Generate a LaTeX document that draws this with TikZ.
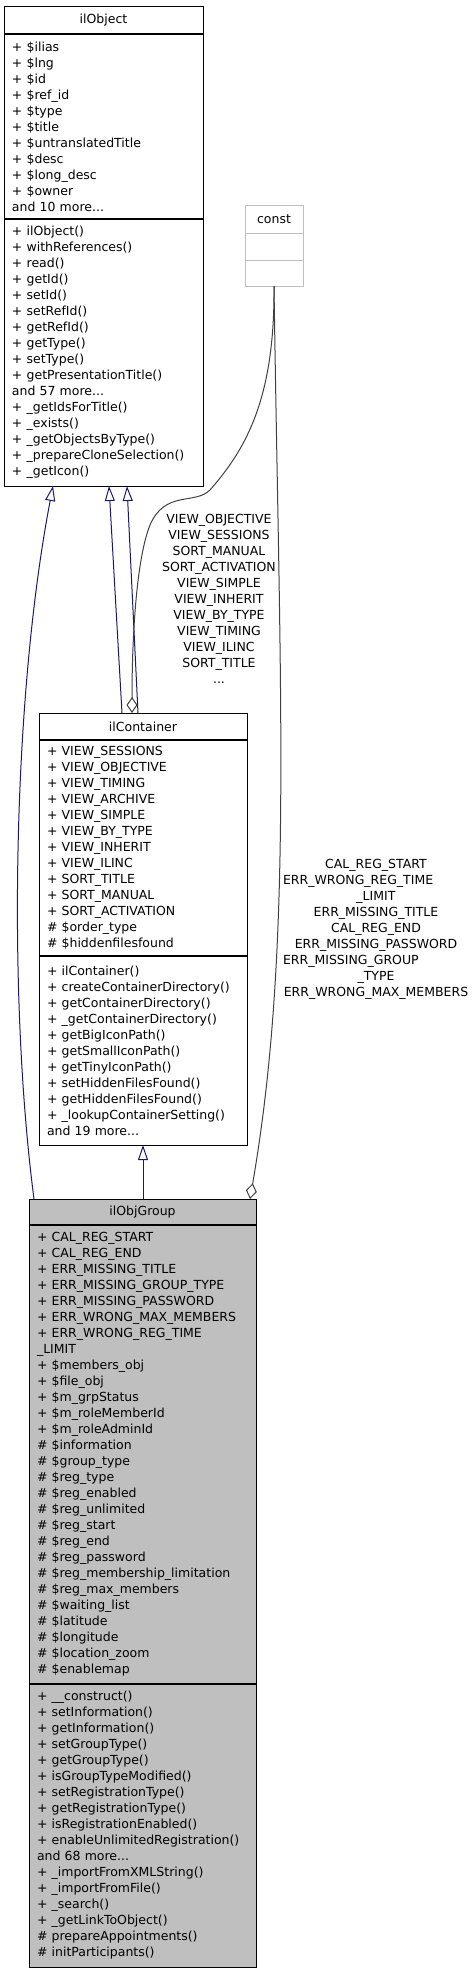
\documentclass[tikz,border=0pt]{standalone}
\usepackage{fontspec}
\setmainfont{DejaVu Sans}
\usetikzlibrary{arrows.meta,positioning}
\definecolor{edgeblue}{HTML}{191970}
\definecolor{edgegray}{HTML}{404040}
\definecolor{constgray}{HTML}{BFBFBF}
\definecolor{groupfill}{HTML}{BFBFBF}

\begin{document}
\begin{tikzpicture}[x=1pt,y=-1pt,
    classbox/.style={draw=black,line width=1pt,outer sep=0pt,inner xsep=8pt,inner ysep=0pt,
      align=left,font=\fontsize{12.5}{16}\selectfont},
    titlebox/.style={classbox,align=center},
    sepline/.style={line width=1.8pt},
    inherit/.style={draw=edgeblue,line width=1pt,-{Triangle[open,length=15pt,width=10pt]}},
    aggr/.style={draw=edgegray,line width=1pt,-{Diamond[open,length=16pt,width=11pt]}},
    elabel/.style={font=\fontsize{12.5}{16}\selectfont,align=center,inner sep=0pt}]
  \useasboundingbox (0,0) rectangle (475,1973);

  % ilObject
  \node[titlebox,text width=183pt,minimum height=28pt,anchor=north west] (oTitle) at (4,6) {ilObject};
  \node[classbox,text width=183pt,minimum height=185pt,below=0pt of oTitle] (oAttr)
    {+ \$ilias\\+ \$lng\\+ \$id\\+ \$ref\_id\\+ \$type\\+ \$title\\+ \$untranslatedTitle\\+ \$desc\\+ \$long\_desc\\+ \$owner\\and 10 more...};
  \node[classbox,text width=183pt,minimum height=267pt,below=0pt of oAttr] (oMeth)
    {+ ilObject()\\+ withReferences()\\+ read()\\+ getId()\\+ setId()\\+ setRefId()\\+ getRefId()\\+ getType()\\+ setType()\\+ getPresentationTitle()\\and 57 more...\\+ \_getIdsForTitle()\\+ \_exists()\\+ \_getObjectsByType()\\+ \_prepareCloneSelection()\\+ \_getIcon()};
  \draw[sepline] (oAttr.north west) -- (oAttr.north east);
  \draw[sepline] (oMeth.north west) -- (oMeth.north east);

  % const
  \node[titlebox,draw=constgray,text width=42pt,minimum height=28pt,anchor=north west] (kTitle) at (245,205) {const};
  \node[classbox,draw=constgray,text width=42pt,minimum height=27pt,below=0pt of kTitle] (kAttr) {};
  \node[classbox,draw=constgray,text width=42pt,minimum height=26pt,below=0pt of kAttr] (kMeth) {};

  % ilContainer
  \node[titlebox,text width=192pt,minimum height=27pt,anchor=north west] (cTitle) at (39,713) {ilContainer};
  \node[classbox,text width=192pt,minimum height=216pt,below=0pt of cTitle] (cAttr)
    {+ VIEW\_SESSIONS\\+ VIEW\_OBJECTIVE\\+ VIEW\_TIMING\\+ VIEW\_ARCHIVE\\+ VIEW\_SIMPLE\\+ VIEW\_BY\_TYPE\\+ VIEW\_INHERIT\\+ VIEW\_ILINC\\+ SORT\_TITLE\\+ SORT\_MANUAL\\+ SORT\_ACTIVATION\\\# \$order\_type\\\# \$hiddenfilesfound};
  \node[classbox,text width=192pt,minimum height=189pt,below=0pt of cAttr] (cMeth)
    {+ ilContainer()\\+ createContainerDirectory()\\+ getContainerDirectory()\\+ \_getContainerDirectory()\\+ getBigIconPath()\\+ getSmallIconPath()\\+ getTinyIconPath()\\+ setHiddenFilesFound()\\+ getHiddenFilesFound()\\+ \_lookupContainerSetting()\\and 19 more...};
  \draw[sepline] (cAttr.north west) -- (cAttr.north east);
  \draw[sepline] (cMeth.north west) -- (cMeth.north east);

  % ilObjGroup
  \node[titlebox,fill=groupfill,text width=211pt,minimum height=26pt,anchor=north west] (gTitle) at (29,1199) {ilObjGroup};
  \node[classbox,fill=groupfill,text width=211pt,minimum height=459pt,below=0pt of gTitle] (gAttr)
    {+ CAL\_REG\_START\\+ CAL\_REG\_END\\+ ERR\_MISSING\_TITLE\\+ ERR\_MISSING\_GROUP\_TYPE\\+ ERR\_MISSING\_PASSWORD\\+ ERR\_WRONG\_MAX\_MEMBERS\\+ ERR\_WRONG\_REG\_TIME\\\_LIMIT\\+ \$members\_obj\\+ \$file\_obj\\+ \$m\_grpStatus\\+ \$m\_roleMemberId\\+ \$m\_roleAdminId\\\# \$information\\\# \$group\_type\\\# \$reg\_type\\\# \$reg\_enabled\\\# \$reg\_unlimited\\\# \$reg\_start\\\# \$reg\_end\\\# \$reg\_password\\\# \$reg\_membership\_limitation\\\# \$reg\_max\_members\\\# \$waiting\_list\\\# \$latitude\\\# \$longitude\\\# \$location\_zoom\\\# \$enablemap};
  \node[classbox,fill=groupfill,text width=211pt,minimum height=283pt,below=0pt of gAttr] (gMeth)
    {+ \_\_construct()\\+ setInformation()\\+ getInformation()\\+ setGroupType()\\+ getGroupType()\\+ isGroupTypeModified()\\+ setRegistrationType()\\+ getRegistrationType()\\+ isRegistrationEnabled()\\+ enableUnlimitedRegistration()\\and 68 more...\\+ \_importFromXMLString()\\+ \_importFromFile()\\+ \_search()\\+ \_getLinkToObject()\\\# prepareAppointments()\\\# initParticipants()};
  \draw[sepline] (gAttr.north west) -- (gAttr.north east);
  \draw[sepline] (gMeth.north west) -- (gMeth.north east);

  % inheritance
  \draw[inherit] ([xshift=5pt]gTitle.north west) .. controls (8,1000) and (12,700) .. ([xshift=49pt]oMeth.south west);
  \draw[inherit] ([xshift=83pt]cTitle.north west) -- ([xshift=105pt]oMeth.south west);
  \draw[inherit] ([xshift=99pt]cTitle.north west) -- ([xshift=123pt]oMeth.south west);
  \draw[inherit] ([xshift=114pt]gTitle.north west) -- ([xshift=104pt]cMeth.south west);

  % usage of const
  \draw[aggr] (kMeth.south) .. controls (275,400) and (245,450) .. (210,490)
    .. controls (195,505) and (165,490) .. (150,525)
    .. controls (136,560) and (132,640) .. ([xshift=93pt]cTitle.north west);
  \draw[aggr] (kMeth.south) .. controls (280,700) and (293,950) .. ([xshift=-6pt]gTitle.north east);

  \node[elabel] (lblCont) at (219,599)
    {VIEW\_OBJECTIVE\\VIEW\_SESSIONS\\SORT\_MANUAL\\SORT\_ACTIVATION\\VIEW\_SIMPLE\\VIEW\_INHERIT\\VIEW\_BY\_TYPE\\VIEW\_TIMING\\VIEW\_ILINC\\SORT\_TITLE\\...};
  \node[elabel,text width=186pt] (lblGroup) at (376,929)
    {CAL\_REG\_START\\\makebox[186pt][l]{ERR\_WRONG\_REG\_TIME}\\\_LIMIT\\ERR\_MISSING\_TITLE\\CAL\_REG\_END\\ERR\_MISSING\_PASSWORD\\\makebox[186pt][l]{ERR\_MISSING\_GROUP}\\\_TYPE\\ERR\_WRONG\_MAX\_MEMBERS};
\end{tikzpicture}
\end{document}
